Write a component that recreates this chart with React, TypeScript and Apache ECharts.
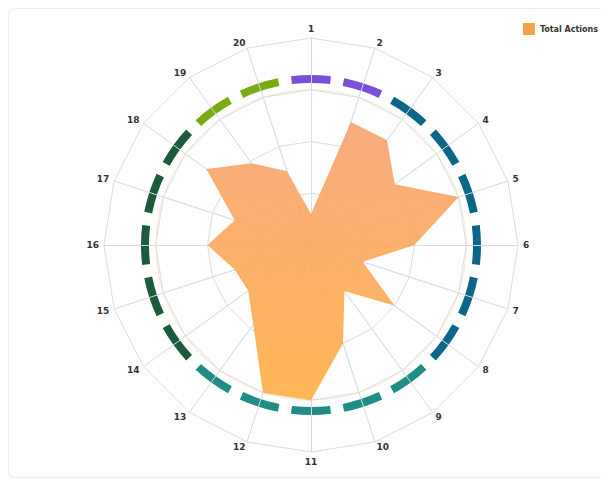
import React, { useEffect, useRef } from "react";
import * as echarts from "echarts";

const indicatorNames = ["1","2","3","4","5","6","7","8","9","10","11","12","13","14","15","16","17","18","19","20"];
const totalActions = [1.2, 5, 5, 4, 6, 4, 2.1, 4, 2.2, 4, 6, 6, 3.8, 3, 3.1, 4, 3.1, 5, 3.9, 3];
const maxValue = 8;
const seriesName = "Total Actions";
const groupColors = [
  "#7B50D8", "#7B50D8",
  "#0B6688", "#0B6688", "#0B6688", "#0B6688", "#0B6688", "#0B6688",
  "#1F8C86", "#1F8C86", "#1F8C86", "#1F8C86", "#1F8C86",
  "#1C5A3C", "#1C5A3C", "#1C5A3C", "#1C5A3C", "#1C5A3C",
  "#7AAB13", "#7AAB13",
];

// ECharts lays radar indicators out counter-clockwise; reorder so they run clockwise.
function clockwise<T>(arr: T[]): T[] {
  return [arr[0], ...arr.slice(1).reverse()];
}

export default function App() {
  const ref = useRef<HTMLDivElement>(null);
  useEffect(() => {
    if (!ref.current) return;
    const chart = echarts.init(ref.current, undefined, { renderer: "svg" });
    const cx = 302;
    const cy = 236;
    const cwNames = clockwise(indicatorNames);
    const cwValues = clockwise(totalActions);
    chart.setOption({
      animation: false,
      legend: {
        data: [seriesName],
        top: 9,
        right: 5,
        icon: "rect",
        itemWidth: 12,
        itemHeight: 12,
        itemGap: 6,
        textStyle: { fontSize: 8, fontWeight: "bold", color: "#333", fontFamily: "DejaVu Sans" },
      },
      radar: [
        {
          center: [cx, cy],
          radius: 207,
          startAngle: 90,
          splitNumber: 4,
          shape: "polygon",
          z: 1,
          indicator: cwNames.map((n) => ({ name: n, max: maxValue, min: 0 })),
          axisName: { color: "#333", fontSize: 9, fontWeight: "bold", fontFamily: "DejaVu Sans" },
          nameGap: 5,
          splitLine: { lineStyle: { color: "#dcdcdc", width: 1 } },
          splitArea: { show: false },
          axisLine: { lineStyle: { color: "#d8d8d8", width: 1 } },
        },
        {
          center: [cx, cy],
          radius: 155,
          startAngle: 90,
          splitNumber: 1,
          shape: "circle",
          z: 1,
          indicator: cwNames.map(() => ({ name: "", max: maxValue, min: 0 })),
          axisName: { show: false },
          splitLine: { lineStyle: { color: "rgba(240,215,185,0.6)", width: 1 } },
          splitArea: { show: false },
          axisLine: { lineStyle: { color: "#d6e1ef", width: 1 } },
        },
      ],
      series: [
        {
          type: "pie",
          z: 0,
          silent: true,
          center: [cx, cy],
          radius: [162, 170],
          startAngle: 99,
          clockwise: true,
          padAngle: 4.5,
          label: { show: false },
          labelLine: { show: false },
          data: indicatorNames.map((n, i) => ({
            name: "seg" + n,
            value: 1,
            itemStyle: { color: groupColors[i] },
          })),
        },
        {
          type: "radar",
          name: seriesName,
          radarIndex: 0,
          z: 2,
          symbol: "none",
          itemStyle: { color: "#F9A04A" },
          lineStyle: { width: 0 },
          areaStyle: {
            opacity: 0.92,
            color: new echarts.graphic.LinearGradient(0, 0, 0, 1, [
              { offset: 0, color: "#F8A474" },
              { offset: 1, color: "#FFB046" },
            ]),
          },
          data: [{ value: cwValues, name: seriesName }],
        },
      ],
    });
    return () => chart.dispose();
  }, []);
  return (
    <div
      style={{
        width: 601,
        height: 470,
        boxSizing: "border-box",
        border: "1px solid #ececec",
        borderRadius: 8,
        boxShadow: "0 0 6px rgba(0,0,0,0.08)",
        background: "#fff",
        overflow: "hidden",
      }}
    >
      <div ref={ref} style={{ width: 599, height: 468 }} />
    </div>
  );
}
